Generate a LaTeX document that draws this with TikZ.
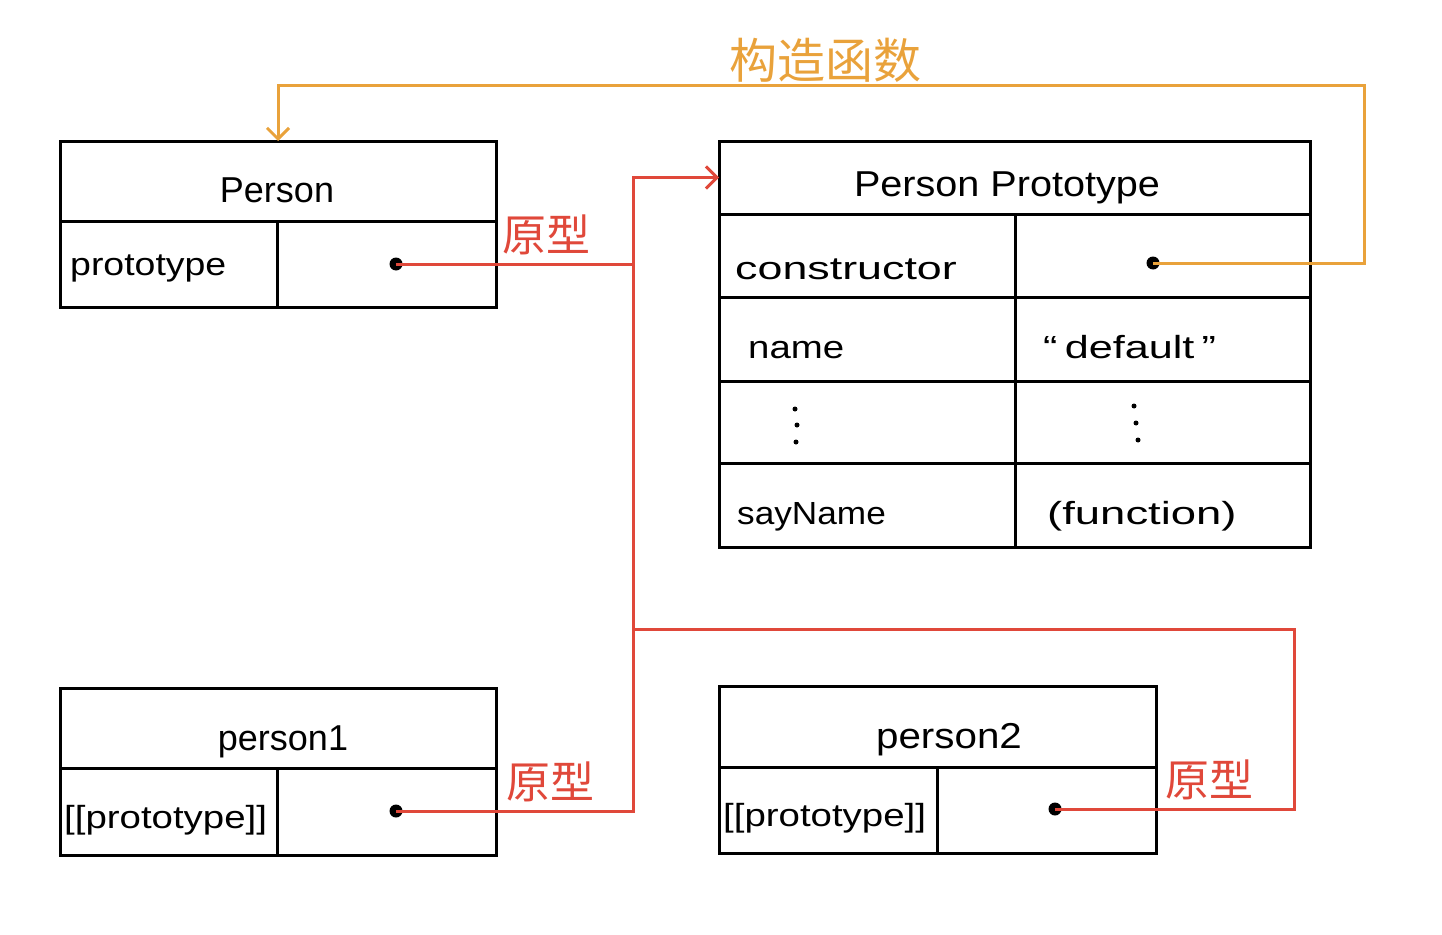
\documentclass[tikz,border=0pt]{standalone}
\usepackage{fontspec}
\usepackage{graphicx}
\setmainfont{Liberation Sans}
\newfontfamily\cjk{Noto Sans CJK SC}
\usetikzlibrary{arrows.meta}
\definecolor{lred}{HTML}{E0483A}
\definecolor{lorange}{HTML}{E9A23B}
\newcommand{\wide}[2]{\scalebox{#1}[1]{#2}}
\begin{document}
\begin{tikzpicture}[x=1pt,y=-1pt,
  cell/.style={draw=black, line width=3pt, anchor=north west, inner sep=0pt, outer sep=0pt},
  txt/.style={anchor=base west, inner sep=0pt, font=\fontsize{32}{36}\selectfont},
  head/.style={anchor=base, inner sep=0pt, font=\fontsize{36}{40}\selectfont},
  cn/.style={inner sep=0pt, font=\cjk\fontsize{44}{48}\selectfont},
  pt/.style={circle, fill=black, inner sep=0pt, minimum size=13pt},
  sdot/.style={circle, fill=black, inner sep=0pt, minimum size=5pt},
  redline/.style={draw=lred, line width=3pt},
  orline/.style={draw=lorange, line width=3pt},
  tip/.style={-{Straight Barb[length=11pt,width=22pt,line width=3pt]}}]
\useasboundingbox (0,0) rectangle (1442,934);
% Person
\node[cell, minimum width=436pt, minimum height=80pt] (Ph) at (60,141) {};
\node[cell, minimum width=217pt, minimum height=86pt] (Pk) at (60,221) {};
\node[cell, minimum width=219pt, minimum height=86pt] (Pv) at (277,221) {};
\node[head] (tPh) at (277,202) {Person};
\node[txt] (tPk) at (70,275) {\wide{1.17}{prototype}};
% Person Prototype
\node[cell, minimum width=591pt, minimum height=73pt] (Rh) at (719,141) {};
\node[cell, minimum width=296pt, minimum height=83pt] (R1k) at (719,214) {};
\node[cell, minimum width=295pt, minimum height=83pt] (R1v) at (1015,214) {};
\node[cell, minimum width=296pt, minimum height=84pt] (R2k) at (719,297) {};
\node[cell, minimum width=295pt, minimum height=84pt] (R2v) at (1015,297) {};
\node[cell, minimum width=296pt, minimum height=82pt] (R3k) at (719,381) {};
\node[cell, minimum width=295pt, minimum height=82pt] (R3v) at (1015,381) {};
\node[cell, minimum width=296pt, minimum height=84pt] (R4k) at (719,463) {};
\node[cell, minimum width=295pt, minimum height=84pt] (R4v) at (1015,463) {};
\node[head] (tRh) at (1007,196) {\wide{1.1}{Person Prototype}};
\node[txt] (tR1k) at (735,279) {\wide{1.4}{constructor}};
\node[txt] (tR2k) at (748,358) {\wide{1.2}{name}};
\node[txt] (tR2v) at (1043,358) {\wide{1.35}{“\,default\,”}};
\node[txt] (tR4k) at (737,524) {\wide{1.1}{sayName}};
\node[txt] (tR4v) at (1047,524) {\wide{1.42}{(function)}};
\node[sdot] (d1) at (795,409) {};
\node[sdot] (d2) at (797,425) {};
\node[sdot] (d3) at (796,442) {};
\node[sdot] (d4) at (1134,406) {};
\node[sdot] (d5) at (1136,423) {};
\node[sdot] (d6) at (1138,440) {};
% person1
\node[cell, minimum width=436pt, minimum height=80pt] (Ah) at (60,688) {};
\node[cell, minimum width=217pt, minimum height=87pt] (Ak) at (60,768) {};
\node[cell, minimum width=219pt, minimum height=87pt] (Av) at (277,768) {};
\node[head] (tAh) at (283,750) {person1};
\node[txt] (tAk) at (64,828) {\wide{1.2}{[[prototype]]}};
% person2
\node[cell, minimum width=437pt, minimum height=81pt] (Bh) at (719,686) {};
\node[cell, minimum width=218pt, minimum height=86pt] (Bk) at (719,767) {};
\node[cell, minimum width=219pt, minimum height=86pt] (Bv) at (937,767) {};
\node[head] (tBh) at (949,748) {\wide{1.12}{person2}};
\node[txt] (tBk) at (723,826) {\wide{1.2}{[[prototype]]}};
% pointer dots
\node[pt] (dP) at (396,264) {};
\node[pt] (dA) at (396,811) {};
\node[pt] (dB) at (1055,809) {};
\node[pt] (dC) at (1153,263) {};
% connector corners
\coordinate (j1) at (633,264);
\coordinate (j2) at (633,811);
\coordinate (j3) at (1294,809);
\coordinate (j4) at (633,629);
\coordinate (o1) at (1364,263);
\coordinate (o2) at (1364,85);
% red connectors
\draw[redline, tip] (dP.center) -- (j1) |- (Rh.west);
\draw[redline] (dA.center) -- (j2) -- (j1);
\draw[redline] (dB.center) -- (j3) |- (j4);
% orange connector
\draw[orline, tip] (dC.center) -- (o1) -- (o2) -| (Ph.north);
% labels
\node[cn, text=lred] (l1) at (546,235) {原型};
\node[cn, text=lred] (l2) at (550,782) {原型};
\node[cn, text=lred] (l3) at (1209,780) {原型};
\node[cn, text=lorange, font=\cjk\fontsize{48}{52}\selectfont] (l4) at (825,60) {构造函数};
\end{tikzpicture}
\end{document}
